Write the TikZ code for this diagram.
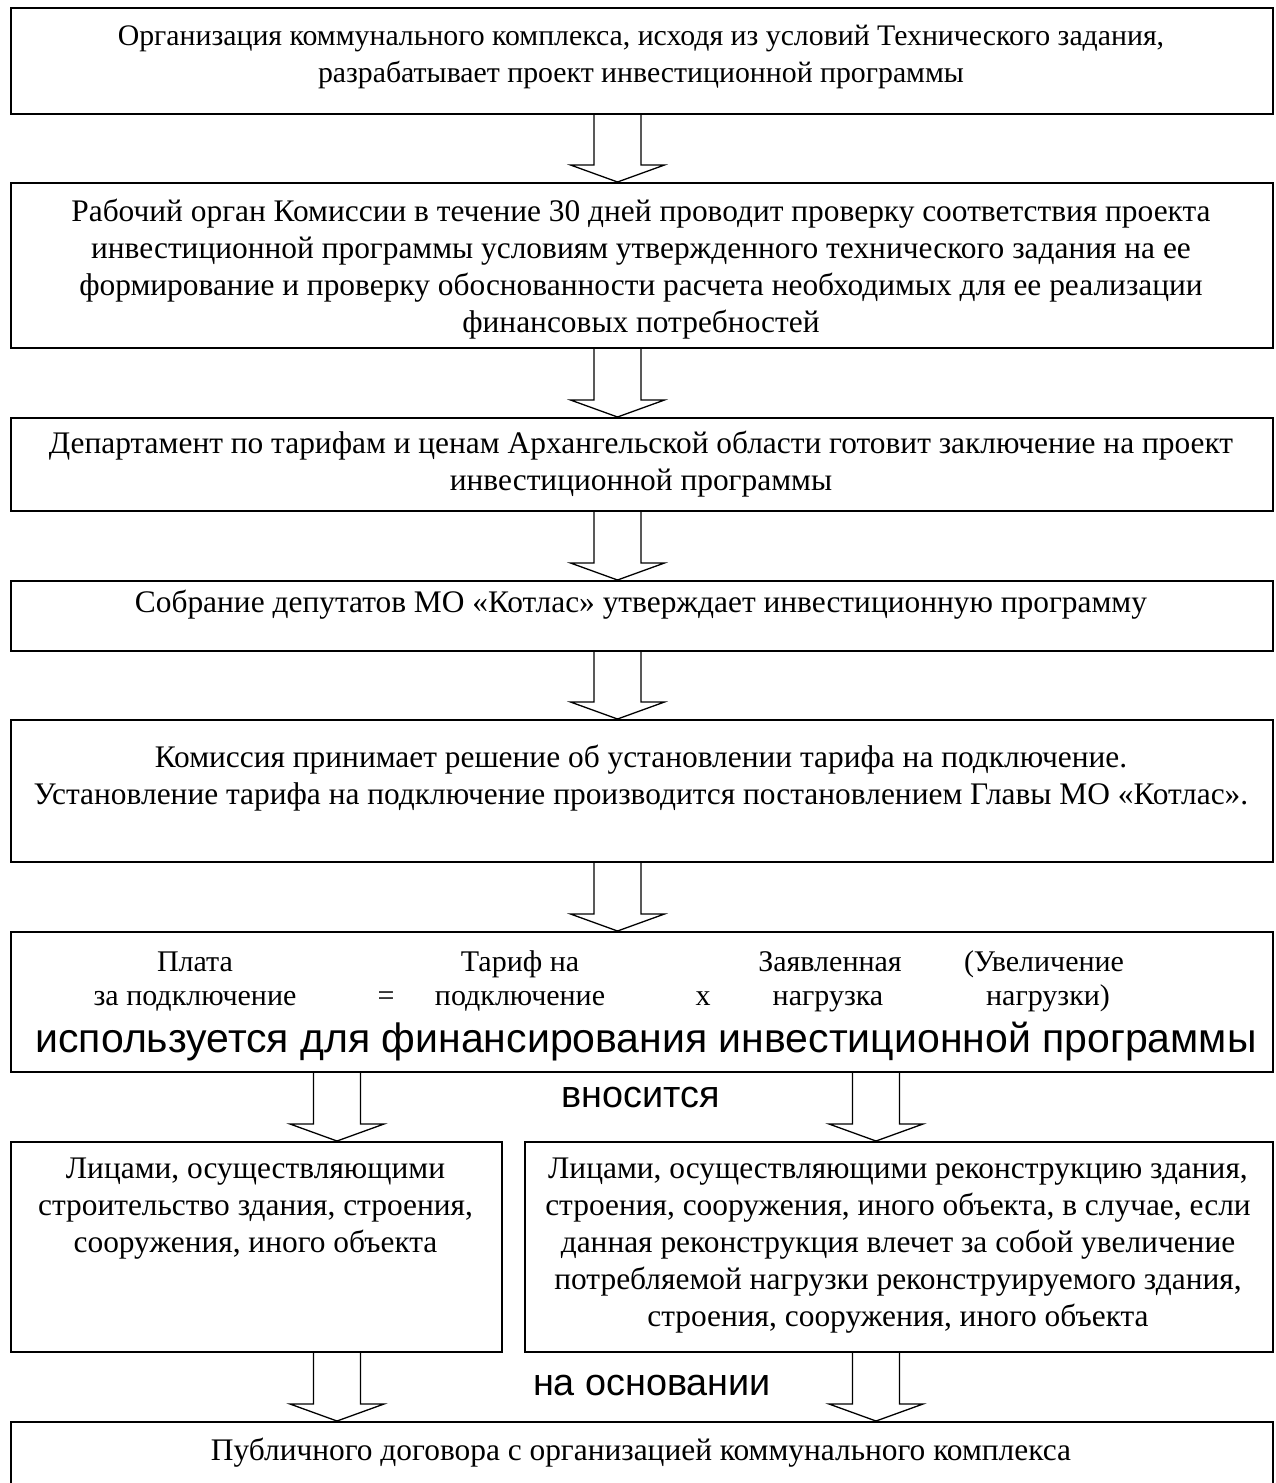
\documentclass[tikz,border=0pt]{standalone}
\usepackage{fontspec}
\setmainfont{Liberation Serif}
\newfontfamily\arialfont{Liberation Sans}
\usetikzlibrary{calc}
\tikzset{
  box/.style={draw, line width=2pt, rectangle, inner sep=0pt, anchor=north west},
  barrow/.style={draw, line width=1.3pt, line join=miter},
  txt/.style={align=center, inner sep=0pt, anchor=base, font=\fontsize{31.4}{37}\selectfont},
  smalltxt/.style={align=center, inner sep=0pt, anchor=base, font=\fontsize{29.8}{37}\selectfont},
  ftxt/.style={align=center, inner sep=0pt, anchor=base, font=\fontsize{30}{37}\selectfont},
  bigtxt/.style={align=center, inner sep=0pt, anchor=base, font=\arialfont\fontsize{41}{46}\selectfont},
  midtxt/.style={align=center, inner sep=0pt, anchor=base, font=\arialfont\fontsize{37.8}{44}\selectfont},
}
\newcommand{\blockarr}[3]{%
  \draw[barrow] let \p1=(#2.south), \p2=(#3.north) in
  ({#1pt-23.5pt},\y1) -- ({#1pt-23.5pt},{\y2+17pt}) -- ({#1pt-47pt},{\y2+17pt}) --
  ({#1pt},\y2) -- ({#1pt+47pt},{\y2+17pt}) -- ({#1pt+23.5pt},{\y2+17pt}) -- ({#1pt+23.5pt},\y1);}
\begin{document}
\begin{tikzpicture}[x=1pt,y=-1pt]
\useasboundingbox (0,0) rectangle (1276,1483);
\clip (0,0) rectangle (1276,1483);
% boxes
\node[box, minimum width=1262pt, minimum height=106pt] (b1) at (10,7) {};
\node[box, minimum width=1262pt, minimum height=165pt] (b2) at (10,182) {};
\node[box, minimum width=1262pt, minimum height=93pt] (b3) at (10,417) {};
\node[box, minimum width=1262pt, minimum height=70pt] (b4) at (10,580) {};
\node[box, minimum width=1262pt, minimum height=142pt] (b5) at (10,719) {};
\node[box, minimum width=1262pt, minimum height=140pt] (b6) at (10,931) {};
\node[box, minimum width=491pt, minimum height=210pt] (b7l) at (10,1141) {};
\node[box, minimum width=748pt, minimum height=210pt] (b7r) at (524,1141) {};
\node[box, minimum width=1262pt, minimum height=80pt] (b8) at (10,1421) {};
% texts (anchor=base is the baseline of the last line)
\node[smalltxt] (t1) at (641,82) {Организация коммунального комплекса, исходя из условий Технического задания,\\ разрабатывает проект инвестиционной программы};
\node[txt] (t2) at (641,332) {Рабочий орган Комиссии в течение 30 дней проводит проверку соответствия проекта\\ инвестиционной программы условиям утвержденного технического задания на ее\\ формирование и проверку обоснованности расчета необходимых для ее реализации\\ финансовых потребностей};
\node[txt] (t3) at (641,490) {Департамент по тарифам и ценам Архангельской области готовит заключение на проект\\ инвестиционной программы};
\node[txt] (t4) at (641,612) {Собрание депутатов МО «Котлас» утверждает инвестиционную программу};
\node[txt] (t5) at (641,804) {Комиссия принимает решение об установлении тарифа на подключение.\\ Установление тарифа на подключение производится постановлением Главы МО «Котлас».};
% formula
\node[ftxt] (f1) at (195,971) {Плата};
\node[ftxt] (f2) at (520,971) {Тариф на};
\node[ftxt] (f3) at (830,971) {Заявленная};
\node[ftxt] (f4) at (1044,971) {(Увеличение};
\node[ftxt] (g1) at (195,1005) {за подключение};
\node[ftxt] (g2) at (386,1005) {=};
\node[ftxt] (g3) at (520,1005) {подключение};
\node[ftxt] (g4) at (703,1005) {x};
\node[ftxt] (g5) at (828,1005) {нагрузка};
\node[ftxt] (g6) at (1048,1005) {нагрузки)};
\node[bigtxt] (big) at (646,1052) {используется для финансирования инвестиционной программы};
\node[midtxt] (vn) at (641,1107) {вносится};
\node[txt] (t7l) at (255.5,1252) {Лицами, осуществляющими\\ строительство здания, строения,\\ сооружения, иного объекта};
\node[txt] (t7r) at (898,1326) {Лицами, осуществляющими реконструкцию здания,\\ строения, сооружения, иного объекта, в случае, если\\ данная реконструкция влечет за собой увеличение\\ потребляемой нагрузки реконструируемого здания,\\ строения, сооружения, иного объекта};
\node[midtxt] (no) at (652,1395) {на основании};
\node[txt] (t8) at (641,1460) {Публичного договора с организацией коммунального комплекса};
% arrows
\blockarr{617.5}{b1}{b2}
\blockarr{617.5}{b2}{b3}
\blockarr{617.5}{b3}{b4}
\blockarr{617.5}{b4}{b5}
\blockarr{617.5}{b5}{b6}
\blockarr{337}{b6}{b7l}
\blockarr{876}{b6}{b7r}
\blockarr{337}{b7l}{b8}
\blockarr{876}{b7r}{b8}
\end{tikzpicture}
\end{document}
